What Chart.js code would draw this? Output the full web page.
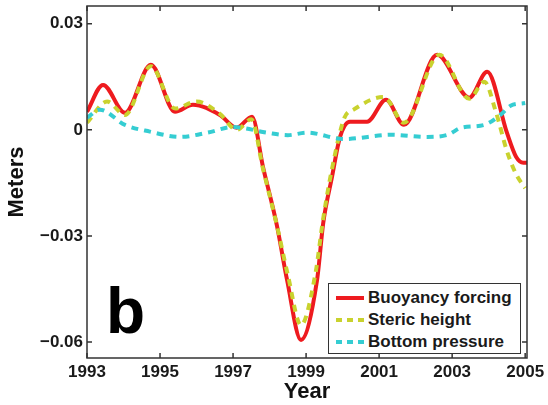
<!DOCTYPE html>
<html><head><meta charset="utf-8">
<script src="https://cdn.jsdelivr.net/npm/chart.js@4"></script>
<style>
html,body{margin:0;padding:0;background:#fff;}
#wrap{position:relative;width:548px;height:405px;overflow:hidden;}
canvas{position:absolute;left:0;top:0;}
#legend{position:absolute;left:328px;top:283px;width:193px;height:71px;border:1.5px solid #333;background:#fff;box-sizing:border-box;font-family:"Liberation Sans",Arial,sans-serif;font-weight:bold;font-size:17px;color:#1a1a1a;}
#legend .row{position:absolute;left:0;height:22px;line-height:22px;white-space:nowrap;}
#legend .row span.t{position:absolute;left:39px;top:0;}
#legend svg{position:absolute;left:7px;top:7px;}
#panel{position:absolute;left:106px;top:279px;font-family:"Liberation Sans",Arial,sans-serif;font-weight:bold;font-size:64px;line-height:64px;color:#000;}
</style>
</head><body>
<div id="wrap">
<canvas id="c" width="548" height="405"></canvas>
<div id="panel">b</div>
<div id="legend"></div>
</div>
<script>
// ---- data ----
const seriesNames = ["Buoyancy forcing", "Steric height", "Bottom pressure"];
const seriesColors = ["#ee1b1f", "#c9d22e", "#35cdd2"];

const buoyancyYears  = [1993.0, 1993.44, 1994.04, 1994.75, 1995.41, 1995.9, 1996.64, 1997.1, 1997.52, 1997.82, 1998.2, 1998.48, 1998.86, 1999.3, 1999.47, 1999.71, 1999.93, 2000.2, 2000.67, 2001.19, 2001.68, 2002.59, 2003.47, 2003.96, 2004.5, 2004.75, 2004.95, 2005.05];
const buoyancyValues = [0.0051, 0.0127, 0.0048, 0.0184, 0.0051, 0.0071, 0.0042, 0.0006, 0.0037, -0.0105, -0.0270, -0.0425, -0.0594, -0.0425, -0.0263, -0.0133, -0.0020, 0.0023, 0.0023, 0.0085, 0.0014, 0.0212, 0.0091, 0.0164, -0.0008, -0.0076, -0.0093, -0.0093];

const stericYears  = [1993.0, 1993.55, 1994.04, 1994.75, 1995.41, 1996.0, 1996.64, 1997.1, 1997.5, 1997.82, 1998.2, 1998.5, 1998.86, 1999.25, 1999.47, 1999.71, 2000.05, 2000.3, 2001.13, 2001.68, 2002.65, 2003.47, 2003.88, 2004.2, 2004.5, 2004.75, 2005.0];
const stericValues = [0.0020, 0.0080, 0.0042, 0.0180, 0.0060, 0.0080, 0.0045, 0.0000, 0.0030, -0.0110, -0.0270, -0.0410, -0.0552, -0.0410, -0.0250, -0.0110, 0.0034, 0.0057, 0.0093, 0.0020, 0.0212, 0.0088, 0.0136, 0.0050, -0.0060, -0.0125, -0.0165];

const bottomYears  = [1993.0, 1993.35, 1994.04, 1994.72, 1995.55, 1996.3, 1997.0, 1997.93, 1998.5, 1999.03, 2000.04, 2001.33, 2002.31, 2002.88, 2003.25, 2003.88, 2004.32, 2004.6, 2005.0];
const bottomValues = [0.0034, 0.0057, 0.0014, -0.0005, -0.0020, -0.0008, 0.0008, -0.0008, -0.0015, -0.0008, -0.0026, -0.0014, -0.0020, -0.0014, 0.0006, 0.0014, 0.0042, 0.0068, 0.0076];

const xTickValues = [1993, 1995, 1997, 1999, 2001, 2003, 2005];
const yTickValues = [-0.06, -0.03, 0, 0.03];
const yTickLabels = ["\u22120.06", "\u22120.03", "0", "0.03"];

function pts(xs, ys){ return xs.map((x,i)=>({x:x, y:ys[i]})); }

const FONT = '"Liberation Sans", Arial, sans-serif';

const framePlugin = {
  id: 'frame',
  afterDraw(chart){
    const ctx = chart.ctx, a = chart.chartArea;
    const xs = chart.scales.x, ys = chart.scales.y;
    ctx.save();
    ctx.strokeStyle = '#333';
    ctx.lineWidth = 1.5;
    ctx.strokeRect(a.left, a.top, a.right - a.left, a.bottom - a.top);
    const L = 5;
    ctx.beginPath();
    xTickValues.forEach(v => {
      const px = xs.getPixelForValue(v);
      ctx.moveTo(px, a.bottom); ctx.lineTo(px, a.bottom - L);
      ctx.moveTo(px, a.top); ctx.lineTo(px, a.top + L);
    });
    yTickValues.forEach(v => {
      const py = ys.getPixelForValue(v);
      ctx.moveTo(a.left, py); ctx.lineTo(a.left + L, py);
      ctx.moveTo(a.right, py); ctx.lineTo(a.right - L, py);
    });
    ctx.stroke();
    ctx.restore();
  }
};

new Chart(document.getElementById('c'), {
  type: 'line',
  data: {
    datasets: [
      { label: seriesNames[0], data: pts(buoyancyYears, buoyancyValues), borderColor: seriesColors[0], borderWidth: 4, pointRadius: 0, cubicInterpolationMode: 'monotone', order: 3 },
      { label: seriesNames[1], data: pts(stericYears, stericValues), borderColor: seriesColors[1], borderWidth: 4, borderDash: [7, 6], pointRadius: 0, cubicInterpolationMode: 'monotone', order: 2 },
      { label: seriesNames[2], data: pts(bottomYears, bottomValues), borderColor: seriesColors[2], borderWidth: 4, borderDash: [7, 6], pointRadius: 0, cubicInterpolationMode: 'monotone', order: 1 }
    ]
  },
  options: {
    responsive: false,
    animation: false,
    layout: { padding: { top: 6, right: 21, left: 0, bottom: 0 } },
    plugins: { legend: { display: false }, tooltip: { enabled: false } },
    scales: {
      x: {
        type: 'linear', min: 1993, max: 2005.05,
        afterBuildTicks: s => { s.ticks = xTickValues.map(v => ({ value: v })); },
        afterFit: s => { s.height = 47; s.paddingLeft = 0; s.paddingRight = 0; },
        grid: { display: false, drawTicks: false },
        border: { display: false },
        ticks: { padding: 4, color: '#1a1a1a', font: { family: FONT, size: 17, weight: 'bold' }, maxRotation: 0, callback: v => String(v) },
        title: { display: true, text: 'Year', color: '#111', font: { family: FONT, size: 22, weight: 'bold' }, padding: { top: 0, bottom: 0 } }
      },
      y: {
        type: 'linear', min: -0.0645, max: 0.035,
        afterBuildTicks: s => { s.ticks = yTickValues.map(v => ({ value: v })); },
        afterFit: s => { s.width = 87; s.paddingTop = 0; s.paddingBottom = 0; },
        grid: { display: false, drawTicks: false },
        border: { display: false },
        ticks: { padding: 4, color: '#1a1a1a', font: { family: FONT, size: 17, weight: 'bold' }, callback: v => yTickLabels[yTickValues.indexOf(v)] },
        title: { display: true, text: 'Meters', color: '#111', font: { family: FONT, size: 22, weight: 'bold' }, padding: { top: 4, bottom: 0 } }
      }
    }
  },
  plugins: [framePlugin]
});

// legend (HTML, real text)
const legend = document.getElementById('legend');
seriesNames.forEach((name, i) => {
  const row = document.createElement('div');
  row.className = 'row';
  row.style.top = (3 + i * 22) + 'px';
  row.style.width = '100%';
  const dash = i === 0 ? '' : 'stroke-dasharray="6 5"';
  row.innerHTML = '<svg width="28" height="8"><line x1="0" y1="4" x2="28" y2="4" stroke="' + seriesColors[i] + '" stroke-width="4" ' + dash + '/></svg><span class="t">' + name + '</span>';
  legend.appendChild(row);
});
</script>
</body></html>
